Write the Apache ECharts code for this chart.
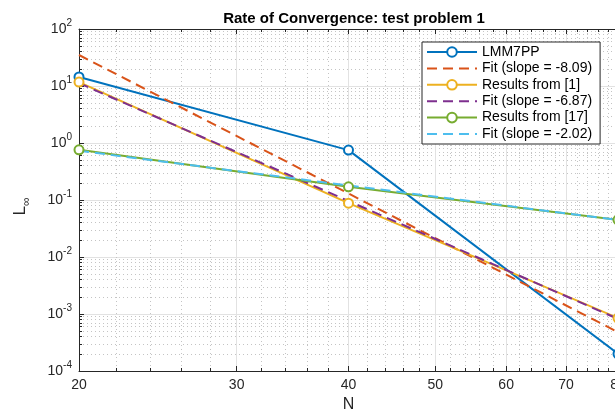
<!DOCTYPE html>
<html>
<head>
<meta charset="utf-8">
<script src="https://cdn.jsdelivr.net/npm/echarts@6/dist/echarts.min.js"></script>
<style>
html, body { margin: 0; padding: 0; background: #fff; }
#chart { width: 615px; height: 415px; }
</style>
</head>
<body>
<div id="chart"></div>
<script>
// N values and errors
var nValues = [20, 40, 80];
var lmm7pp = [14.4, 0.75, 2.0e-4];
var fitLmm = [35, 0.13, 4.8e-4];
var results1 = [11.7, 0.088, 8.5e-4];
var fit1 = [11.2, 0.096, 8.2e-4];
var results17 = [0.76, 0.17, 0.045];
var fit17 = [0.73, 0.18, 0.0445];

// ticks
var xMajor = [20, 30, 40, 50, 60, 70, 80];
var xMinor = [22, 24, 26, 28, 32, 34, 36, 38, 42, 44, 46, 48, 52, 54, 56, 58, 62, 64, 66, 68, 72, 74, 76, 78];
var yMajor = [1e-4, 1e-3, 1e-2, 1e-1, 1, 10, 100];
var yMinor = [];
yMajor.slice(0, -1).forEach(function (d) {
    for (var m = 2; m <= 9; m++) yMinor.push(+(m * d).toPrecision(3));
});

var axisColor = '#262626';

function pairs(vals) {
    return nValues.map(function (n, i) { return [n, vals[i]]; });
}

var myChart = echarts.init(document.getElementById('chart'));

function xAxisDef(pos, ticks, len, major) {
    return {
        type: 'log', logBase: 10, min: 20, max: 80, position: pos,
        axisLine: { show: major, onZero: false, lineStyle: { color: axisColor, width: 1 } },
        axisTick: { show: true, inside: true, length: len, customValues: ticks, lineStyle: { color: axisColor } },
        axisLabel: { show: false },
        splitLine: { show: false }
    };
}

var x0 = xAxisDef('bottom', xMajor, 5, true);
x0.axisLabel = { show: true, customValues: xMajor, color: axisColor, fontSize: 14, margin: 7, fontFamily: 'Liberation Sans' };
x0.splitLine = { show: true, lineStyle: { color: '#e2e2e2', width: 1 } };
x0.name = 'N';
x0.nameLocation = 'middle';
x0.nameGap = 26;
x0.nameTextStyle = { color: axisColor, fontSize: 16, fontFamily: 'Liberation Sans' };
var x1 = xAxisDef('bottom', xMinor, 3, false);
x1.splitLine = { show: true, lineStyle: { color: '#c4c4c4', width: 1, type: [1, 3] } };
var x2 = xAxisDef('top', xMajor, 5, true);
var x3 = xAxisDef('top', xMinor, 3, false);

function yAxisDef(ticks, len, major) {
    return {
        type: 'log', logBase: 10, min: 1e-4, max: 100, position: 'left',
        axisLine: { show: major, onZero: false, lineStyle: { color: axisColor, width: 1 } },
        axisTick: { show: true, inside: true, length: len, customValues: ticks, lineStyle: { color: axisColor } },
        axisLabel: { show: false },
        splitLine: { show: false }
    };
}

var y0 = yAxisDef(yMajor, 5, true);
y0.axisLabel = {
    show: true, customValues: yMajor, margin: 7,
    formatter: function (v) {
        return '{b|10}{s|' + Math.round(Math.log10(v)) + '}';
    },
    rich: {
        b: { fontSize: 14, color: axisColor, lineHeight: 21, fontFamily: 'Liberation Sans' },
        s: { fontSize: 10, color: axisColor, verticalAlign: 'top', fontFamily: 'Liberation Sans' }
    }
};
y0.splitLine = { show: true, lineStyle: { color: '#e2e2e2', width: 1 } };
y0.name = '{l|L}{s|\u221e}';
y0.nameLocation = 'middle';
y0.nameGap = 46;
y0.nameRotate = 90;
y0.nameTextStyle = {
    padding: [0, 13, 0, 0],
    rich: {
        l: { fontSize: 17, color: axisColor, lineHeight: 26, fontFamily: 'Liberation Sans' },
        s: { fontSize: 12, color: axisColor, verticalAlign: 'bottom', fontFamily: 'Liberation Sans' }
    }
};
var y1 = yAxisDef(yMinor, 3, false);
y1.splitLine = { show: true, lineStyle: { color: '#c4c4c4', width: 1, type: [1, 3] } };

function dataSeries(name, vals, color) {
    return {
        name: name, type: 'line', data: pairs(vals),
        symbol: 'emptyCircle', symbolSize: 9,
        lineStyle: { color: color, width: 2 },
        itemStyle: { color: color, borderWidth: 2 },
        clip: true, z: 3
    };
}
function fitSeries(name, vals, color) {
    return {
        name: name, type: 'line', data: pairs(vals),
        symbol: 'none',
        lineStyle: { color: color, width: 2, type: [10, 6] },
        itemStyle: { color: color },
        clip: true, z: 3
    };
}

var names = ['LMM7PP', 'Fit (slope = -8.09)', 'Results from [1]', 'Fit (slope = -6.87)', 'Results from [17]', 'Fit (slope = -2.02)'];

myChart.setOption({
    animation: false,
    backgroundColor: '#fff',
    title: {
        text: 'Rate of Convergence: test problem 1',
        left: 349, top: 6, textAlign: 'center',
        textStyle: { fontSize: 15, fontWeight: 'bold', color: '#000', fontFamily: 'Liberation Sans' }
    },
    legend: {
        orient: 'vertical', left: 422, top: 42,
        padding: [2, 8, 2, 4],
        itemWidth: 50, itemHeight: 12, itemGap: 0.4,
        backgroundColor: '#fff', borderColor: '#262626', borderWidth: 1,
        textStyle: { fontSize: 14, color: '#000', lineHeight: 16, fontFamily: 'Liberation Sans' },
        data: names.map(function (n, i) {
            return i % 2 ? { name: n, itemStyle: { opacity: 0 } } : { name: n };
        })
    },
    grid: { left: 79, top: 29, width: 539, height: 342, containLabel: false, outerBoundsMode: 'none' },
    xAxis: [x0, x1, x2, x3],
    yAxis: [y0, y1],
    series: [
        dataSeries(names[0], lmm7pp, '#0072BD'),
        fitSeries(names[1], fitLmm, '#D95319'),
        dataSeries(names[2], results1, '#EDB120'),
        fitSeries(names[3], fit1, '#7E2F8E'),
        dataSeries(names[4], results17, '#77AC30'),
        fitSeries(names[5], fit17, '#4DBEEE')
    ]
});
</script>
</body>
</html>
